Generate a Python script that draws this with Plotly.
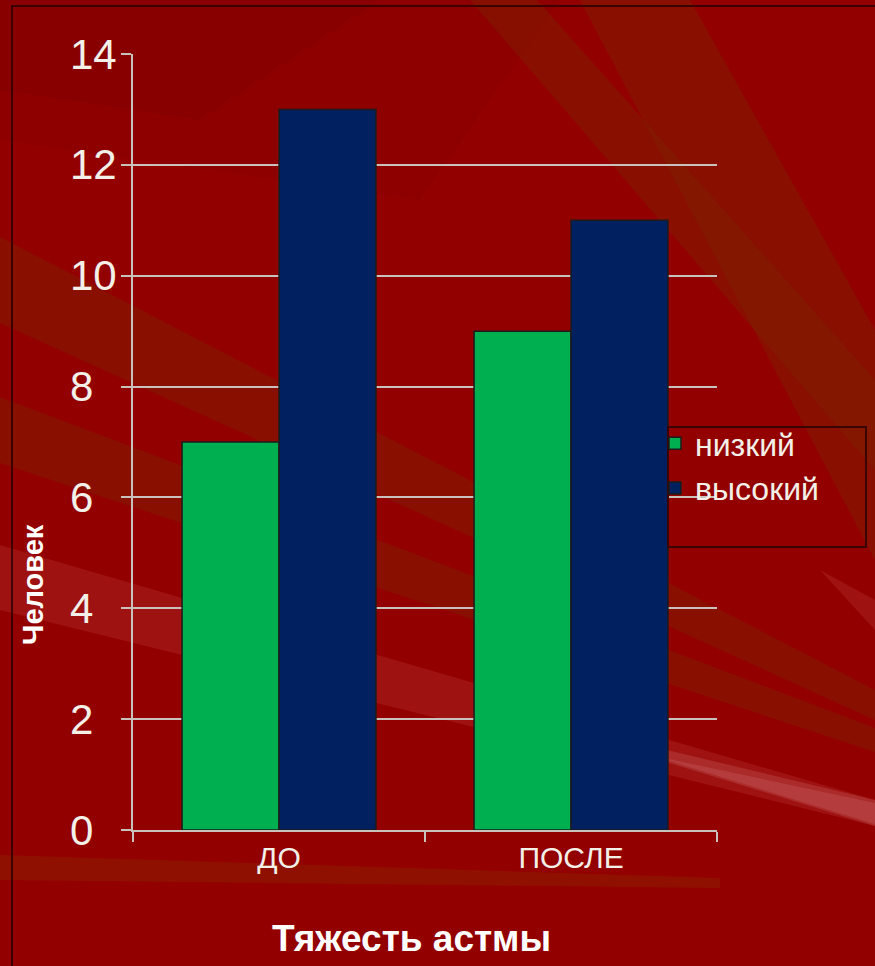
import plotly.graph_objects as go

# Data
categories = ["ДО", "ПОСЛЕ"]
series_names = ["низкий", "высокий"]
low_values = [7, 9]
high_values = [13, 11]
y_ticks = [0, 2, 4, 6, 8, 10, 12, 14]

x_title = "Тяжесть астмы"
y_title = "Человек"

# Styling
W, H = 875, 966
ML, MR, MT, MB = 133, 158, 54, 136
PW, PH = W - ML - MR, H - MT - MB
TXT = "#f2f0e8"
GRID = "#c9c2bc"
FONT = "Liberation Sans, Arial, sans-serif"


def px(x):
    return (x - ML) / PW


def py(y):
    return (H - MB - y) / PH


def poly(points, color):
    path = "M " + " L ".join(f"{px(a):.4f},{py(b):.4f}" for a, b in points) + " Z"
    return dict(type="path", xref="paper", yref="paper", path=path,
                fillcolor=color, line=dict(width=0), layer="below")


# background rays
ORANGE = "rgba(125,35,0,0.42)"
PINK = "rgba(255,180,180,0.10)"
shapes = [
    poly([(0, 0), (560, 0), (420, 200), (0, 140)], "rgba(110,0,0,0.12)"),
    poly([(0, 0), (380, 0), (200, 120), (0, 90)], "rgba(110,0,0,0.12)"),
    poly([(470, 0), (537, 0), (875, 380), (875, 470)], ORANGE),
    poly([(580, 0), (690, 0), (875, 330), (875, 560)], ORANGE),
    poly([(0, 237), (0, 323), (875, 720), (875, 690)], ORANGE),
    poly([(0, 397), (0, 463), (875, 752), (875, 728)], ORANGE),
    poly([(0, 545), (0, 610), (875, 826), (875, 800)], PINK),
    poly([(480, 705), (875, 800), (875, 826)], "rgba(255,190,190,0.14)"),
    poly([(650, 755), (875, 803), (875, 824)], "rgba(255,200,200,0.12)"),
    poly([(820, 570), (875, 600), (875, 630)], PINK),
    poly([(0, 855), (0, 880), (720, 888), (720, 878)], "rgba(140,45,0,0.35)"),
    # legend box
    dict(type="rect", xref="paper", yref="paper",
         x0=px(668), x1=px(866), y0=py(547), y1=py(427),
         line=dict(color="#3a0505", width=2), fillcolor="rgba(0,0,0,0)"),
    # outer frame
    dict(type="rect", xref="paper", yref="paper",
         x0=px(12), x1=px(900), y0=py(1000), y1=py(6),
         line=dict(color="#220000", width=1.5), fillcolor="rgba(0,0,0,0)"),
]

fig = go.Figure()
fig.add_trace(go.Bar(name=series_names[0], x=categories, y=low_values,
                     marker=dict(color="#00b050", line=dict(color="#1c1c1c", width=1.5))))
fig.add_trace(go.Bar(name=series_names[1], x=categories, y=high_values,
                     marker=dict(color="#012060", line=dict(color="#1c1c1c", width=1.5))))

annotations = [
    dict(text=str(v), x=px(68), y=v, xref="paper", yref="y", xanchor="left",
         yanchor="middle", showarrow=False, font=dict(size=42, color=TXT, family=FONT))
    for v in y_ticks
]
annotations.append(dict(text=f"<b>{x_title}</b>", x=px(411), y=py(938), xref="paper",
                        yref="paper", xanchor="center", yanchor="middle", showarrow=False,
                        font=dict(size=37, color="#ffffff", family=FONT)))
annotations.append(dict(text=f"<b>{y_title}</b>", x=px(33), y=py(585), xref="paper",
                        yref="paper", xanchor="center", yanchor="middle", showarrow=False,
                        textangle=-90, font=dict(size=29, color="#ffffff", family=FONT)))

fig.update_layout(
    width=W, height=H,
    margin=dict(l=ML, r=MR, t=MT, b=MB, pad=0),
    paper_bgcolor="#930000",
    plot_bgcolor="rgba(0,0,0,0)",
    barmode="group",
    bargap=0.336,
    bargroupgap=0,
    font=dict(family=FONT, color=TXT),
    showlegend=True,
    legend=dict(x=px(655), y=py(416), xanchor="left", yanchor="top",
                bgcolor="rgba(0,0,0,0)", borderwidth=0,
                font=dict(size=32, color=TXT, family=FONT),
                itemwidth=30, tracegroupgap=0),
    shapes=shapes,
    annotations=annotations,
    xaxis=dict(showline=True, linecolor=GRID, linewidth=1.5,
               ticks="outside", tickson="boundaries", ticklen=10, tickcolor=GRID,
               tickwidth=1.5, tickfont=dict(size=30, color=TXT, family=FONT),
               showgrid=False, zeroline=False),
    yaxis=dict(range=[0, 14], tickvals=y_ticks, showticklabels=False,
               showline=True, linecolor=GRID, linewidth=1.5,
               ticks="outside", ticklen=10, tickcolor=GRID, tickwidth=1.5,
               showgrid=True, gridcolor=GRID, gridwidth=1.5, zeroline=False),
)

fig.write_html("out.html")
